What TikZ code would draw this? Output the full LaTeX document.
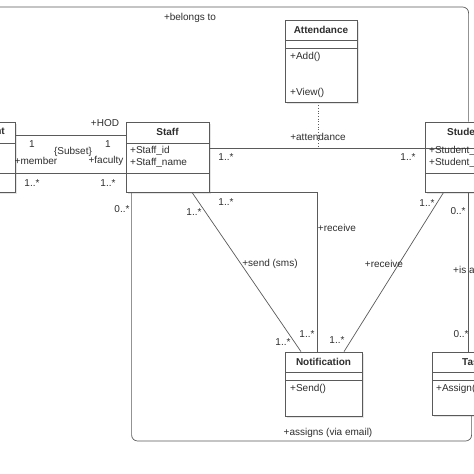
\documentclass[tikz,border=0pt]{standalone}
\usepackage{fontspec}
\setmainfont{Liberation Sans}
\usetikzlibrary{shadows}
\definecolor{linegray}{HTML}{5A5A5A}
\definecolor{txtgray}{HTML}{2E2E2E}
\begin{document}
\begin{tikzpicture}[x=1pt,y=-1pt,
  font=\fontsize{10}{12}\selectfont,
  cls/.style={draw=linegray, fill=white, rectangle, inner sep=0pt, line width=0.8pt,
    drop shadow={shadow xshift=2pt, shadow yshift=-2pt, fill=black!10, opacity=1}},
  divider/.style={draw=linegray, line width=0.8pt},
  assoc/.style={draw=linegray, line width=0.7pt},
  lbl/.style={text=txtgray, inner sep=0pt},
  title/.style={text=txtgray, inner sep=0pt, font=\fontsize{10}{12}\selectfont\bfseries},
  attr/.style={text=txtgray, inner sep=0pt, anchor=west}]
\useasboundingbox (0,0) rectangle (474,474);
\clip (0,0) rectangle (474,474);
\fill[white] (0,0) rectangle (474,474);

% classes
\node[cls, minimum width=75pt, minimum height=70pt] (dept) at (-22.5,157) {};
\node[cls, minimum width=83pt, minimum height=70pt] (staff) at (167.5,157) {};
\node[cls, minimum width=95pt, minimum height=70pt] (student) at (472.5,157) {};
\node[cls, minimum width=72pt, minimum height=82pt] (att) at (321,61) {};
\node[cls, minimum width=77pt, minimum height=64pt] (notif) at (323.5,384) {};
\node[cls, minimum width=88pt, minimum height=63pt] (task) at (476,383.5) {};

% compartments
\draw[divider] (-60,143) -- (15,143) (-60,173) -- (15,173);
\draw[divider] (126,143) -- (209,143) (126,173) -- (209,173);
\draw[divider] (425,148) -- (520,148) (425,173) -- (520,173);
\draw[divider] (285,40) -- (357,40) (285,48) -- (357,48);
\draw[divider] (285,372) -- (362,372) (285,380) -- (362,380);
\draw[divider] (432,372) -- (520,372) (432,380) -- (520,380);

% class texts
\node[title, anchor=east] (tdept) at (5,132) {Department};
\node[title] (tstaff) at (167.5,132) {Staff};
\node[title, anchor=west] (tstudent) at (447,132) {Student};
\node[title] (tatt) at (321,30) {Attendance};
\node[title] (tnotif) at (323.5,362) {Notification};
\node[title, anchor=west] (ttask) at (462,362) {Task};
\node[attr] (a1) at (130,151) {+Staff\_id};
\node[attr] (a2) at (130,163) {+Staff\_name};
\node[attr] (a3) at (429,151) {+Student\_id};
\node[attr] (a4) at (429,163) {+Student\_name};
\node[attr] (a5) at (290,57) {+Add()};
\node[attr] (a6) at (290,93) {+View()};
\node[attr] (a7) at (290,389) {+Send()};
\node[attr] (a8) at (436,389) {+Assign()};

% connectors
\coordinate (topc) at (200,7);
\draw[assoc, rounded corners=6pt] (dept.north) |- (topc) -| ([xshift=44pt]student.north west);
\draw[assoc] ([yshift=22pt]dept.east) -- ([yshift=22pt]staff.west);
\draw[assoc] ([yshift=-16pt]dept.east) -- ([yshift=-16pt]staff.west);
\draw[assoc] ([yshift=9pt]staff.east) -- ([yshift=9pt]student.west);
\coordinate (attpt) at (318,148);
\draw[assoc, dotted, line width=0.9pt] (att.south -| attpt) -- (attpt);
\draw[assoc] (staff.south east) -| ([xshift=-6.5pt]notif.north);
\draw[assoc] ([xshift=24.5pt]staff.south) -- ([xshift=-22.5pt]notif.north);
\draw[assoc] ([xshift=19pt]student.south west) -- ([xshift=20.5pt]notif.north);
\draw[assoc] ([xshift=44pt]student.south west) -- ([xshift=37pt]task.north west);
\coordinate (abot) at (300,441);
\draw[assoc, rounded corners=6pt] ([xshift=6pt]staff.south west) |- (abot) -| ([xshift=40pt]task.south west);

% labels
\node[lbl] (l1) at (190,18) {+belongs to};
\node[lbl] (l2) at (105,123) {+HOD};
\node[lbl] (l3) at (32,144) {1};
\node[lbl] (l4) at (108,144) {1};
\node[lbl] (l5) at (73,152) {\{Subset\}};
\node[lbl] (l6) at (36,161) {+member};
\node[lbl] (l7) at (106,161) {+faculty};
\node[lbl] (l8) at (32,183) {1..*};
\node[lbl] (l9) at (108,183) {1..*};
\node[lbl] (l10) at (122,209) {0..*};
\node[lbl] (l11) at (194,212) {1..*};
\node[lbl] (l12) at (226,202) {1..*};
\node[lbl] (l13) at (226,157) {1..*};
\node[lbl] (l14) at (318,137) {+attendance};
\node[lbl] (l15) at (408,157) {1..*};
\node[lbl] (l16) at (427,203) {1..*};
\node[lbl] (l17) at (458,211) {0..*};
\node[lbl] (l18) at (337,228) {+receive};
\node[lbl] (l19) at (270,264) {+send (sms)};
\node[lbl] (l20) at (384,264) {+receive};
\node[lbl, anchor=west] (l21) at (453,271) {+is assigned};
\node[lbl] (l22) at (283,342) {1..*};
\node[lbl] (l23) at (307,334) {1..*};
\node[lbl] (l24) at (337,340) {1..*};
\node[lbl] (l25) at (461,334) {0..*};
\node[lbl] (l26) at (328,433) {+assigns (via email)};
\end{tikzpicture}
\end{document}
